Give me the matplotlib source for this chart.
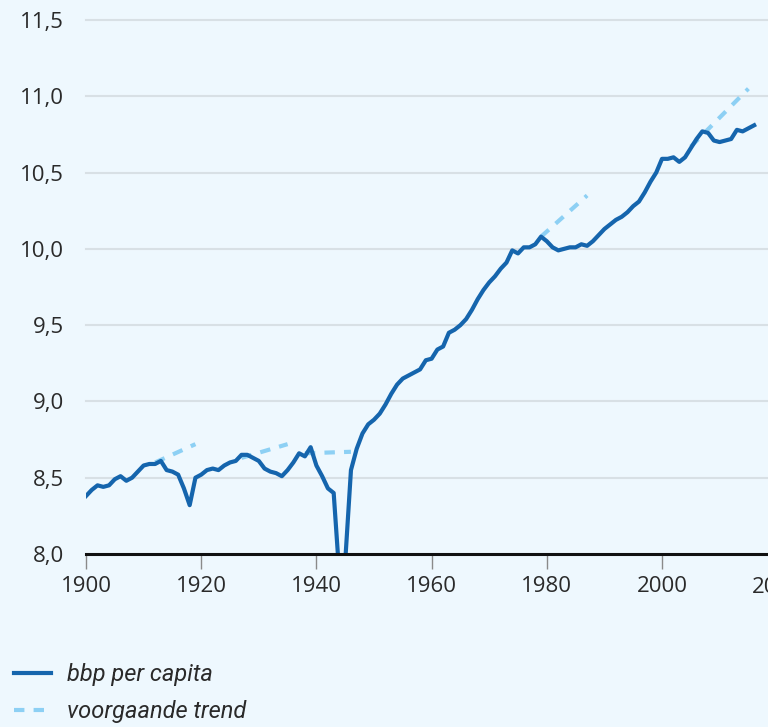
import matplotlib.pyplot as plt
import numpy as np

# bbp per capita (log)
years = np.arange(1900, 2017)
gdp = [
    8.38, 8.42, 8.45, 8.44, 8.45, 8.49, 8.51, 8.48, 8.50, 8.54,   # 1900-1909
    8.58, 8.59, 8.59, 8.61, 8.55, 8.54, 8.52, 8.43, 8.32, 8.50,   # 1910-1919
    8.52, 8.55, 8.56, 8.55, 8.58, 8.60, 8.61, 8.65, 8.65, 8.63,   # 1920-1929
    8.61, 8.56, 8.54, 8.53, 8.51, 8.55, 8.60, 8.66, 8.64, 8.70,   # 1930-1939
    8.58, 8.51, 8.43, 8.40, 7.85, 7.95, 8.55, 8.69, 8.79, 8.85,   # 1940-1949
    8.88, 8.92, 8.98, 9.05, 9.11, 9.15, 9.17, 9.19, 9.21, 9.27,   # 1950-1959
    9.28, 9.34, 9.36, 9.45, 9.47, 9.50, 9.54, 9.60, 9.67, 9.73,   # 1960-1969
    9.78, 9.82, 9.87, 9.91, 9.99, 9.97, 10.01, 10.01, 10.03, 10.08,  # 1970-1979
    10.05, 10.01, 9.99, 10.00, 10.01, 10.01, 10.03, 10.02, 10.05, 10.09,  # 1980-1989
    10.13, 10.16, 10.19, 10.21, 10.24, 10.28, 10.31, 10.37, 10.44, 10.50,  # 1990-1999
    10.59, 10.59, 10.60, 10.57, 10.60, 10.66, 10.72, 10.77, 10.76, 10.71,  # 2000-2009
    10.70, 10.71, 10.72, 10.78, 10.77, 10.79, 10.81,                       # 2010-2016
]

# voorgaande trend: start/end of each extrapolated segment
trend_years = [(1912, 1919), (1927, 1935), (1938, 1946), (1979, 1987), (2005, 2015)]
trend_values = [(8.60, 8.72), (8.63, 8.72), (8.66, 8.67), (10.08, 10.35), (10.67, 11.05)]

y_ticks = [8.0, 8.5, 9.0, 9.5, 10.0, 10.5, 11.0, 11.5]
x_ticks = [1900, 1920, 1940, 1960, 1980, 2000]

bg = "#eef8fe"
dark_blue = "#1565ad"
light_blue = "#8dd0f4"
text_col = "#2a2a2a"

plt.rcParams['font.family'] = ['Open Sans', 'DejaVu Sans']

fig = plt.figure(figsize=(7.68, 7.27), dpi=100, facecolor=bg)
ax = fig.add_axes([86 / 768, 1 - 554 / 727, 1 - 86 / 768, (554 - 20) / 727])
ax.set_facecolor(bg)

for i, (yrs, vals) in enumerate(zip(trend_years, trend_values)):
    ax.plot(yrs, vals, color=light_blue, lw=3, linestyle=(0, (2.5, 2.2)),
            label="voorgaande trend" if i == 0 else None, zorder=2)
ax.plot(years, gdp, color=dark_blue, lw=3, solid_joinstyle='round',
        label="bbp per capita", zorder=3)

ax.set_xlim(1900, 1900 + (768 - 86) / 5.76)
ax.set_ylim(8.0, 11.5)

for yv in y_ticks[1:]:
    ax.axhline(yv, color="#d8e0e5", lw=1.5, zorder=1, clip_on=False)
ax.axhline(8.0, color="#111111", lw=2.2, zorder=4, clip_on=False)

for s in ax.spines.values():
    s.set_visible(False)

ax.set_yticks(y_ticks)
ax.set_yticklabels([f"{v:.1f}".replace(".", ",") for v in y_ticks])
ax.set_xticks(x_ticks)
ax.set_xticklabels([str(x) for x in x_ticks])
ax.tick_params(axis='y', length=0, pad=16, labelsize=16, labelcolor=text_col)
ax.tick_params(axis='x', length=11, width=1, color="#8a8a8a", pad=5,
               labelsize=16, labelcolor=text_col)

# 2020 label cut off by the right edge, as in the reference
ax.text(2020, -0.043, "2020", transform=ax.get_xaxis_transform(), ha='center', va='top',
        fontsize=16, color=text_col, clip_on=False)

handles, labels = ax.get_legend_handles_labels()
order = [1, 0]
leg = fig.legend([handles[i] for i in order], [labels[i] for i in order],
                 loc='upper left', bbox_to_anchor=(14 / 768, 1 - 663 / 727),
                 frameon=False, handlelength=1.55, handletextpad=0.7,
                 labelspacing=0.6, borderaxespad=0, borderpad=0,
                 prop={'family': 'Roboto', 'style': 'italic', 'size': 17})
for t in leg.get_texts():
    t.set_color(text_col)

plt.savefig("out.png", dpi=100, facecolor=bg)
